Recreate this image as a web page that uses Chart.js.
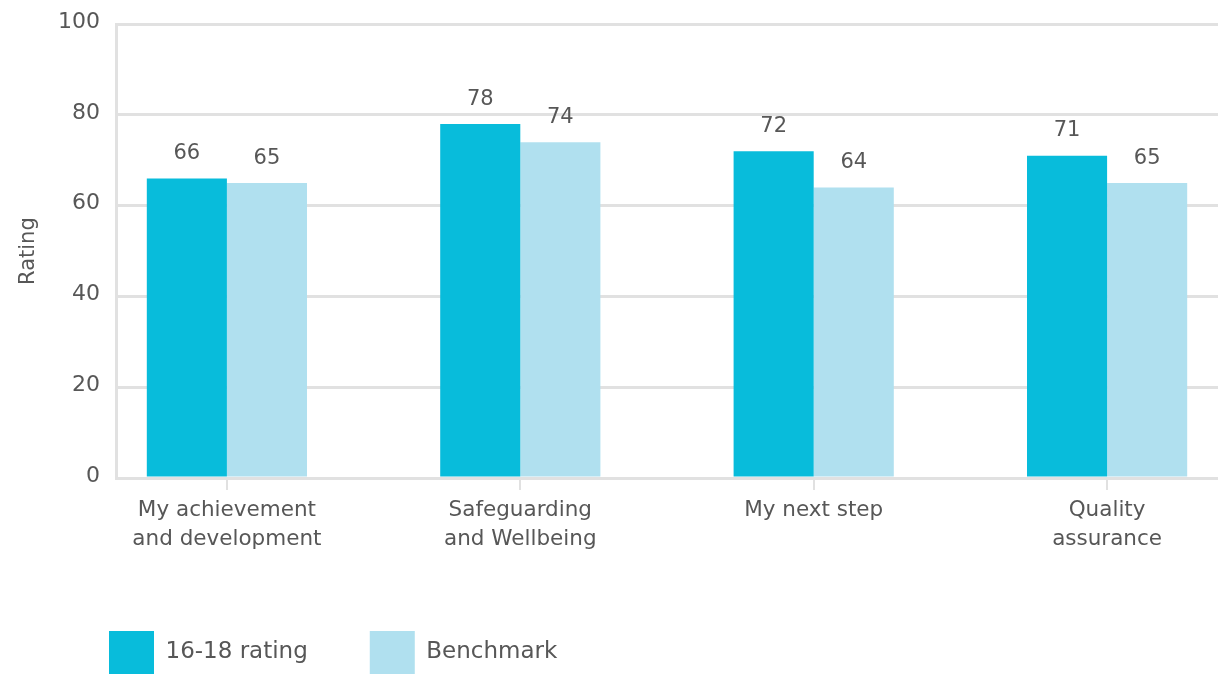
<!DOCTYPE html>
<html>
<head>
<meta charset="utf-8">
<script src="https://cdn.jsdelivr.net/npm/chart.js@4/dist/chart.umd.min.js"></script>
<style>
  html, body { margin: 0; padding: 0; background: #ffffff; }
  #wrap { width: 1218px; height: 674px; position: relative; }
</style>
</head>
<body>
<div id="wrap"><canvas id="chart" width="1218" height="674"></canvas></div>
<script>
// Survey categories (each entry split into the lines shown under the axis)
const categories = [
  ["My achievement", "and development"],
  ["Safeguarding", "and Wellbeing"],
  ["My next step"],
  ["Quality", "assurance"]
];
const seriesNames = ["16-18 rating", "Benchmark"];
const ratings1618 = [66, 78, 72, 71];
const benchmark = [65, 74, 64, 65];
const yTicks = [0, 20, 40, 60, 80, 100];

const TEXT = "#575757";
const GRID = "#e1e1e1";
const FONT = "'DejaVu Sans', 'Open Sans', sans-serif";

// Writes each bar's value above it
const valueLabels = {
  id: "valueLabels",
  afterDatasetsDraw(chart) {
    const ctx = chart.ctx;
    ctx.save();
    ctx.fillStyle = TEXT;
    ctx.font = "21px " + FONT;
    ctx.textAlign = "center";
    ctx.textBaseline = "middle";
    chart.data.datasets.forEach((ds, di) => {
      chart.getDatasetMeta(di).data.forEach((bar, i) => {
        ctx.fillText(String(ds.data[i].y), bar.x, bar.y - 25);
      });
    });
    ctx.restore();
  }
};

// Moves the legend row so it begins under the plot, not at the page edge
const legendIndent = {
  id: "legendIndent",
  beforeDraw(chart) {
    if (chart.legend) chart.legend.left = 47;
  }
};

const toPoints = arr => arr.map((v, i) => ({ x: i, y: v }));

new Chart(document.getElementById("chart"), {
  type: "bar",
  data: {
    datasets: [
      { label: seriesNames[0], data: toPoints(ratings1618), backgroundColor: "#08bcdb" },
      { label: seriesNames[1], data: toPoints(benchmark), backgroundColor: "#b0e0ef" }
    ]
  },
  options: {
    responsive: false,
    animation: false,
    events: [],
    layout: { padding: { top: 0, right: 0, left: 0, bottom: -10 } },
    datasets: { bar: { categoryPercentage: 0.546, barPercentage: 1.0, borderWidth: 0 } },
    scales: {
      x: {
        type: "linear",
        offset: false,
        min: -0.378,
        max: 3.378,
        afterBuildTicks: s => { s.ticks = categories.map((_, i) => ({ value: i })); },
        afterFit: s => { s.height = 91; },
        grid: {
          offset: false,
          drawOnChartArea: false,
          drawTicks: true,
          tickLength: 12,
          color: GRID,
          lineWidth: 2
        },
        border: { display: false },
        ticks: {
          color: TEXT,
          font: { family: FONT, size: 21.5, lineHeight: 1.35 },
          padding: 6,
          maxRotation: 0,
          autoSkip: false,
          callback: v => categories[v] || ""
        }
      },
      y: {
        min: 0,
        max: 100,
        afterBuildTicks: s => { s.ticks = yTicks.map(v => ({ value: v })); },
        afterFit: s => { s.width = 116; },
        grid: { color: GRID, lineWidth: 3, drawTicks: false },
        border: { display: true, color: GRID, width: 3 },
        ticks: {
          color: TEXT,
          font: { family: FONT, size: 22, lineHeight: 0.75 },
          padding: 16,
          labelOffset: -2
        },
        title: {
          display: true,
          text: "Rating",
          color: TEXT,
          font: { family: FONT, size: 21 },
          padding: { top: 16, bottom: 0 }
        }
      }
    },
    plugins: {
      tooltip: { enabled: false },
      legend: {
        position: "bottom",
        align: "start",
        labels: {
          boxWidth: 45,
          boxHeight: 43,
          padding: 62,
          color: TEXT,
          font: { family: FONT, size: 23 }
        }
      }
    }
  },
  plugins: [valueLabels, legendIndent]
});
</script>
</body>
</html>
